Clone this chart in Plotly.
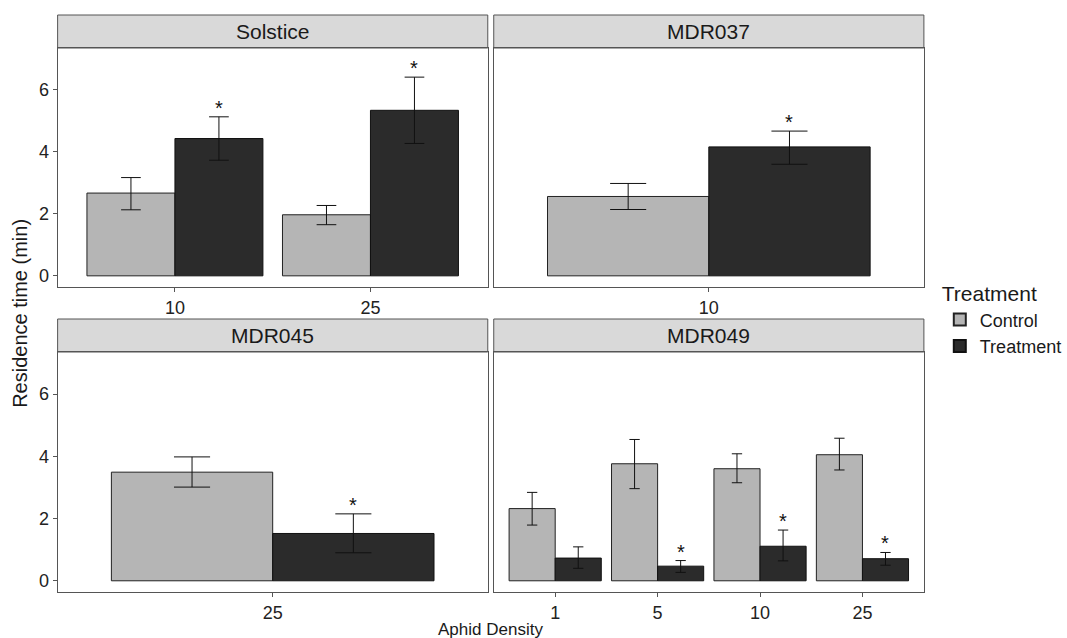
import plotly.graph_objects as go

# ---------------- data ----------------
panels = ["Solstice", "MDR037", "MDR045", "MDR049"]
densities = [["10", "25"], ["10"], ["25"], ["1", "5", "10", "25"]]

control_mean = [[2.67, 1.97], [2.56], [3.49], [2.32, 3.76, 3.60, 4.05]]
control_upper = [[3.17, 2.27], [2.98], [3.98], [2.84, 4.54, 4.08, 4.58]]
control_lower = [[2.13, 1.65], [2.14], [3.01], [1.79, 2.96, 3.15, 3.56]]

treat_mean = [[4.43, 5.34], [4.16], [1.52], [0.73, 0.47, 1.11, 0.71]]
treat_upper = [[5.13, 6.41], [4.67], [2.15], [1.09, 0.65, 1.63, 0.91]]
treat_lower = [[3.73, 4.27], [3.60], [0.90], [0.40, 0.27, 0.64, 0.50]]
treat_sig = [[True, True], [True], [True], [False, True, True, True]]

y_ticks = [0, 2, 4, 6]

# ---------------- layout geometry (pixels) ----------------
W, H = 1067, 638
col_px = [(58, 491), (497, 930)]
row_plot_px = [(48, 287), (352, 592)]
row_strip_px = [(15, 48), (319, 352)]

CONTROL = "#b5b5b5"
TREAT = "#2b2b2b"
BORDER = "#555555"
STRIP = "#d9d9d9"
FONT = "Liberation Sans, Arial, sans-serif"
BAR_W = 0.45

fig = go.Figure()
layout = dict(
    width=W, height=H,
    margin=dict(l=0, r=0, t=0, b=0),
    paper_bgcolor="white", plot_bgcolor="white",
    font=dict(family=FONT, color="#1a1a1a"),
    barmode="overlay",
    showlegend=True,
)
shapes = []
annotations = []

for p, name in enumerate(panels):
    r, c = divmod(p, 2)
    ax = p + 1
    xa = "x" if ax == 1 else f"x{ax}"
    ya = "y" if ax == 1 else f"y{ax}"
    n = len(densities[p])
    idx = list(range(n))
    x0, x1 = col_px[c]
    py0, py1 = row_plot_px[r]
    ppu = (x1 - x0) / (n + 0.2)
    cap = 0.05 * ppu

    cm, cu, cl = control_mean[p], control_upper[p], control_lower[p]
    tm, tu, tl = treat_mean[p], treat_upper[p], treat_lower[p]

    fig.add_trace(go.Bar(
        x=idx, y=cm, offset=-BAR_W, width=BAR_W,
        marker=dict(color=CONTROL, line=dict(color="#222222", width=1)),
        error_y=dict(type="data", symmetric=False,
                     array=[u - m for u, m in zip(cu, cm)],
                     arrayminus=[m - l for m, l in zip(cm, cl)],
                     color="#111111", thickness=1, width=cap),
        name="Control", legendgroup="Control", showlegend=(p == 0),
        xaxis=xa, yaxis=ya, hoverinfo="skip"))
    fig.add_trace(go.Bar(
        x=idx, y=tm, offset=0, width=BAR_W,
        marker=dict(color=TREAT, line=dict(color="#111111", width=1)),
        error_y=dict(type="data", symmetric=False,
                     array=[u - m for u, m in zip(tu, tm)],
                     arrayminus=[m - l for m, l in zip(tm, tl)],
                     color="#111111", thickness=1, width=cap),
        name="Treatment", legendgroup="Treatment", showlegend=(p == 0),
        xaxis=xa, yaxis=ya, hoverinfo="skip"))

    # significance asterisks above the treatment error bars
    for i, u, s in zip(idx, tu, treat_sig[p]):
        if s:
            annotations.append(dict(
                text="*", xref=xa, yref=ya, x=i + BAR_W / 2, y=u,
                xanchor="center", yanchor="bottom", yshift=-4, showarrow=False,
                font=dict(size=20, color="#111111", family=FONT)))

    layout[f"xaxis{ax}" if ax > 1 else "xaxis"] = dict(
        domain=[x0 / W, x1 / W], anchor=ya,
        range=[-0.6, n - 0.4], tickmode="array", tickvals=idx, ticktext=densities[p],
        showgrid=False, zeroline=False, showline=True, mirror=True,
        linecolor=BORDER, linewidth=1, ticks="outside", ticklen=4,
        tickcolor=BORDER, tickfont=dict(size=18, color="#222222", family=FONT))
    layout[f"yaxis{ax}" if ax > 1 else "yaxis"] = dict(
        domain=[1 - py1 / H, 1 - py0 / H], anchor=xa,
        range=[-0.36, 7.35], tickmode="array", tickvals=y_ticks,
        showgrid=False, zeroline=False, showline=True, mirror=True,
        linecolor=BORDER, linewidth=1,
        ticks="outside" if c == 0 else "", ticklen=4, tickcolor=BORDER,
        showticklabels=(c == 0),
        tickfont=dict(size=18, color="#222222", family=FONT))

    sy0, sy1 = row_strip_px[r]
    shapes.append(dict(type="rect", xref="paper", yref="paper",
                       x0=x0 / W, x1=x1 / W, y0=1 - sy1 / H, y1=1 - sy0 / H,
                       fillcolor=STRIP, line=dict(color=BORDER, width=1), layer="below"))
    annotations.append(dict(text=name, xref="paper", yref="paper",
                            x=(x0 + x1) / 2 / W, y=1 - (sy0 + sy1) / 2 / H,
                            xanchor="center", yanchor="middle", showarrow=False,
                            font=dict(size=21, color="#1a1a1a", family=FONT)))

annotations.append(dict(text="Aphid Density", xref="paper", yref="paper",
                        x=494 / W, y=1 - 629 / H, xanchor="center", yanchor="middle",
                        showarrow=False, font=dict(size=17, color="#1a1a1a", family=FONT)))
annotations.append(dict(text="Residence time (min)", xref="paper", yref="paper",
                        x=20 / W, y=1 - 313 / H, xanchor="center", yanchor="middle",
                        textangle=-90, showarrow=False,
                        font=dict(size=20, color="#1a1a1a", family=FONT)))

layout["shapes"] = shapes
layout["annotations"] = annotations
layout["legend"] = dict(
    x=946 / W, y=1 - 274 / H, xanchor="left", yanchor="top",
    title=dict(text="Treatment", font=dict(size=21, color="#1a1a1a", family=FONT)),
    font=dict(size=18, color="#1a1a1a", family=FONT),
    bgcolor="rgba(0,0,0,0)", tracegroupgap=0, itemsizing="constant")

fig.update_layout(**layout)
fig.write_html("out.html", config={"displayModeBar": False},
               post_script="document.body.style.margin='0';document.body.style.padding='0';")
